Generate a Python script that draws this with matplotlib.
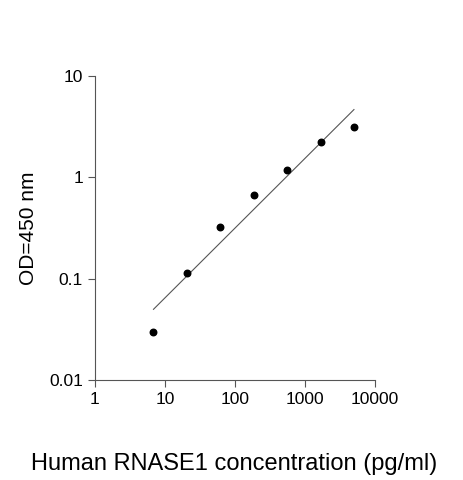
import numpy as np
import matplotlib
matplotlib.use("Agg")
import matplotlib.pyplot as plt
from matplotlib.ticker import FixedLocator, FixedFormatter, NullLocator

plt.rcParams['font.family'] = ['Liberation Sans', 'DejaVu Sans']

conc = [6.86, 20.6, 61.7, 185, 556, 1667, 5000]
od = [0.030, 0.115, 0.32, 0.67, 1.17, 2.25, 3.1]
xticks = [1, 10, 100, 1000, 10000]
xlabels = ["1", "10", "100", "1000", "10000"]
yticks = [0.01, 0.1, 1, 10]
ylabels = ["0.01", "0.1", "1", "10"]

fig = plt.figure(figsize=(4.63, 4.80), dpi=100)
ax = fig.add_axes([0.205, 0.208, 0.605, 0.634])
ax.set_xscale('log'); ax.set_yscale('log')
ax.set_xlim(1, 10000); ax.set_ylim(0.01, 10)

lx = np.log10(conc); ly = np.log10(od)
m, b = np.polyfit(lx, ly, 1)
fx = np.array([conc[0], conc[-1]])
ax.plot(fx, 10 ** (m * np.log10(fx) + b), color='#555555', lw=0.8)
ax.scatter(conc, od, s=22, color='black', zorder=3)

ax.xaxis.set_major_locator(FixedLocator(xticks))
ax.xaxis.set_major_formatter(FixedFormatter(xlabels))
ax.yaxis.set_major_locator(FixedLocator(yticks))
ax.yaxis.set_major_formatter(FixedFormatter(ylabels))
ax.xaxis.set_minor_locator(NullLocator()); ax.yaxis.set_minor_locator(NullLocator())
ax.tick_params(labelsize=12.5, direction='out', length=5, width=0.8, color='#555555')
for s in ['top', 'right']:
    ax.spines[s].set_visible(False)
for s in ['left', 'bottom']:
    ax.spines[s].set_color('#555555'); ax.spines[s].set_linewidth(0.8)
ax.set_ylabel('OD=450 nm', fontsize=15, labelpad=8)
fig.text(0.505, 0.02, 'Human RNASE1 concentration (pg/ml)', fontsize=17, ha='center')
fig.savefig('out.png', dpi=100)
